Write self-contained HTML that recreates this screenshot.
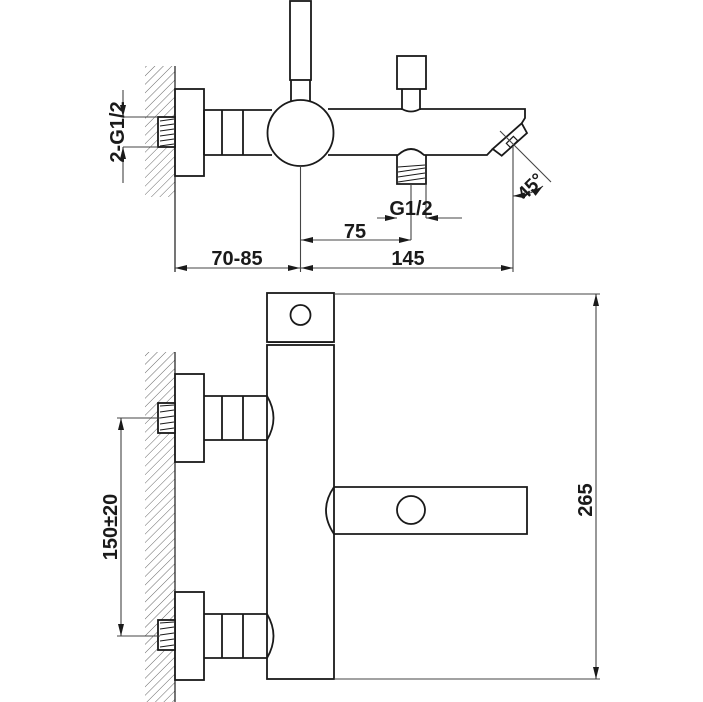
<!DOCTYPE html>
<html><head><style>
html,body{margin:0;padding:0;background:#fff;}
svg{display:block;}
text{font-family:"Liberation Sans",sans-serif;font-weight:bold;fill:#1a1a1a;}
</style></head><body>
<svg width="703" height="702" viewBox="0 0 703 702" xmlns="http://www.w3.org/2000/svg">
<defs>
<pattern id="h" width="6" height="6" patternUnits="userSpaceOnUse" patternTransform="rotate(45)">
<line x1="0" y1="0" x2="0" y2="6" stroke="#555" stroke-width="0.9"/>
</pattern>
<marker id="a" viewBox="0 0 12 6" refX="12" refY="3" markerWidth="12" markerHeight="6" orient="auto-start-reverse" markerUnits="userSpaceOnUse">
<path d="M0,0 L12,3 L0,6 z" fill="#1a1a1a"/>
</marker>
</defs>
<g fill="none" stroke="#1a1a1a" stroke-width="1.8">
<rect x="145" y="66" width="30" height="131" fill="url(#h)" stroke="none"/>
<line x1="175" y1="66" x2="175" y2="272" stroke-width="1.2"/>
<rect x="175" y="89" width="29" height="87" fill="#fff"/>
<rect x="158" y="117" width="17" height="30" fill="#fff"/>
<path d="M160,121 L174,119 M160,126 L174,124 M160,131 L174,129 M160,136 L174,134 M160,141 L174,139 M160,146 L174,144" stroke-width="1"/>
<path d="M204,110 H272 M204,155 H272 M204,110 V155 M222,110 V155 M243,110 V155"/>
<rect x="290" y="1" width="21" height="79"/>
<path d="M291,80 V101 M310,80 V101"/>
<circle cx="300.5" cy="133" r="33" fill="#fff"/>
<path d="M328,109 H402 Q411,114 420,109 H525 V118 L521.7,123.3"/>
<path d="M328,155 H398 Q411,143 424,155 H487 L492.7,149"/>
<path d="M521.7,123.3 L527,133 L501.7,155.7 L492.7,149 Z"/>
<rect x="507" y="139" width="10" height="6" transform="rotate(-45 512 142)" stroke-width="1.2"/>
<rect x="397" y="56" width="29" height="33"/>
<path d="M402,89 V110 M420,89 V110"/>
<path d="M397,155 V184 H426 V155"/>
<path d="M398,172 L425,168 M398,177 L425,173 M398,182 L425,178 M398,167 L425,165" stroke-width="1"/>
</g>
<g fill="none" stroke="#444" stroke-width="1.1">
<line x1="300.5" y1="166" x2="300.5" y2="272"/>
<line x1="513" y1="146" x2="513" y2="272"/>
<line x1="411" y1="184" x2="411" y2="240"/>
<line x1="426" y1="184" x2="426" y2="218"/>
<line x1="175" y1="268" x2="300" y2="268" marker-start="url(#a)" marker-end="url(#a)"/>
<line x1="301" y1="268" x2="513" y2="268" marker-start="url(#a)" marker-end="url(#a)"/>
<line x1="301" y1="240" x2="411" y2="240" marker-start="url(#a)" marker-end="url(#a)"/>
<line x1="377" y1="218" x2="397" y2="218" marker-end="url(#a)"/>
<line x1="462" y1="218" x2="426" y2="218" marker-end="url(#a)"/>
<line x1="123" y1="90" x2="123" y2="117" marker-end="url(#a)"/>
<line x1="123" y1="183" x2="123" y2="147" marker-end="url(#a)"/>
<line x1="123" y1="117" x2="158" y2="117"/>
<line x1="123" y1="147" x2="158" y2="147"/>
<line x1="500" y1="131" x2="551" y2="182"/>
<path d="M513,196 Q532,195 543,186" marker-start="url(#a)" marker-end="url(#a)"/>
</g>
<text x="237" y="265" font-size="20" text-anchor="middle">70-85</text>
<text x="408" y="265" font-size="20" text-anchor="middle">145</text>
<text x="355" y="238" font-size="20" text-anchor="middle">75</text>
<text x="411" y="215" font-size="20" text-anchor="middle">G1/2</text>
<text transform="translate(124,132) rotate(-90)" font-size="20" text-anchor="middle">2-G1/2</text>
<text transform="translate(535,191) rotate(-45)" font-size="19" text-anchor="middle">45°</text>

<g fill="none" stroke="#1a1a1a" stroke-width="1.8">
<rect x="145" y="352" width="30" height="350" fill="url(#h)" stroke="none"/>
<line x1="175" y1="352" x2="175" y2="702" stroke-width="1.2"/>
<rect x="267" y="293" width="67" height="49"/>
<circle cx="300.5" cy="315" r="10"/>
<line x1="268" y1="342.5" x2="333" y2="342.5" stroke-width="1"/>
<rect x="267" y="345" width="67" height="334"/>
<rect x="175" y="374" width="29" height="88" fill="#fff"/>
<rect x="158" y="403" width="17" height="30" fill="#fff"/>
<path d="M160,406 L174,405 M160,412 L174,410 M160,418 L174,416 M160,424 L174,422 M160,430 L174,428" stroke-width="1"/>
<path d="M204,396 H267 Q280,418 267,440 H204 M222,396 V440 M243,396 V440"/>
<rect x="175" y="592" width="29" height="88" fill="#fff"/>
<rect x="158" y="620" width="17" height="30" fill="#fff"/>
<path d="M160,623 L174,622 M160,629 L174,627 M160,635 L174,633 M160,641 L174,639 M160,647 L174,645" stroke-width="1"/>
<path d="M204,614 H267 Q280,636 267,658 H204 M222,614 V658 M243,614 V658"/>
<path d="M334,487 H527 V534 H334 Q318,510 334,487"/>
<circle cx="411" cy="510" r="14"/>
</g>
<g fill="none" stroke="#444" stroke-width="1.1">
<line x1="334" y1="294" x2="600" y2="294"/>
<line x1="334" y1="679" x2="600" y2="679"/>
<line x1="596" y1="294" x2="596" y2="679" marker-start="url(#a)" marker-end="url(#a)"/>
<line x1="117" y1="418" x2="160" y2="418"/>
<line x1="117" y1="636" x2="160" y2="636"/>
<line x1="121" y1="418" x2="121" y2="636" marker-start="url(#a)" marker-end="url(#a)"/>
</g>
<text transform="translate(592,500) rotate(-90)" font-size="20" text-anchor="middle">265</text>
<text transform="translate(117,527) rotate(-90)" font-size="20" text-anchor="middle">150±20</text>
</svg>
</body></html>
